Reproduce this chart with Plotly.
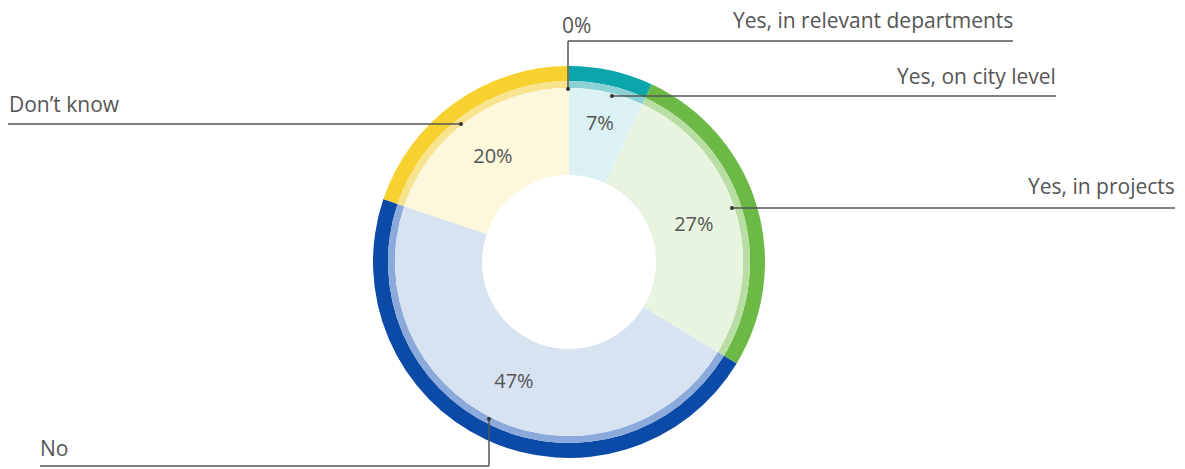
import plotly.graph_objects as go

# ---- data ----
categories = ["Yes, in relevant departments", "Yes, on city level", "Yes, in projects", "No", "Don't know"]
values = [0, 7, 27, 47, 20]

# ---- styles ----
strong = ["#0aa6ab", "#0aa6ab", "#6cb946", "#0b4aa6", "#f6d12f"]
medium = ["#8ad2d6", "#8ad2d6", "#b8dea4", "#8ba9da", "#f8e48e"]
light = ["#dbf1f3", "#dbf1f3", "#e8f4e0", "#d8e3f2", "#fdf7dc"]

W, H = 1185, 469
CX, CY = 569, 262
R_OUT, R_MID, R_IN, R_HOLE = 196, 181, 174, 87
FONT = "Open Sans"
TXT = "#555555"
LINE = "#555555"


def dom(r):
    return dict(x=[(CX - r) / W, (CX + r) / W], y=[1 - (CY + r) / H, 1 - (CY - r) / H])


fig = go.Figure()
common = dict(labels=categories, values=values, sort=False, direction="clockwise",
              rotation=0, showlegend=False, hoverinfo="label+value")

fig.add_trace(go.Pie(domain=dom(R_OUT), hole=R_MID / R_OUT, marker=dict(colors=strong, line=dict(width=0)),
                     textinfo="none", **common))
fig.add_trace(go.Pie(domain=dom(R_MID), hole=R_IN / R_MID, marker=dict(colors=medium, line=dict(width=0)),
                     textinfo="none", **common))
fig.add_trace(go.Pie(domain=dom(R_IN), hole=R_HOLE / R_IN, marker=dict(colors=light, line=dict(width=0)),
                     text=[f"{v}%" if v else "" for v in values], textinfo="text",
                     textposition="inside", insidetextorientation="horizontal",
                     insidetextfont=dict(family=FONT, size=20, color=TXT), **common))


def px(x):
    return x / W


def py(y):
    return 1 - y / H


shapes = []
annotations = []


def seg(x0, y0, x1, y1):
    shapes.append(dict(type="line", xref="paper", yref="paper", x0=px(x0), y0=py(y0), x1=px(x1), y1=py(y1),
                       line=dict(color=LINE, width=1.5)))


def dot(x, y):
    shapes.append(dict(type="circle", xref="paper", yref="paper", x0=px(x - 2), x1=px(x + 2),
                       y0=py(y + 2), y1=py(y - 2), fillcolor="#333333", line=dict(width=0)))


def label(text, x, y, anchor):
    annotations.append(dict(text=text, x=px(x), y=py(y), xref="paper", yref="paper", xanchor=anchor,
                            yanchor="middle", showarrow=False, font=dict(family=FONT, size=21, color=TXT)))


# Yes, in relevant departments (0%)
seg(568, 89, 568, 41); seg(568, 41, 1013, 41); dot(568, 89)
label(categories[0], 1015, 20, "right")
label(f"{values[0]}%", 560, 25, "left")
# Yes, on city level
seg(612, 96, 1056, 96); dot(612, 96)
label(categories[1], 1058, 76, "right")
# Yes, in projects
seg(732, 208, 1175, 208); dot(732, 208)
label(categories[2], 1177, 186, "right")
# Don't know
seg(8, 124, 461, 124); dot(461, 124)
label("Don’t know", 7, 104, "left")
# No
seg(489, 419, 489, 466); seg(489, 466, 40, 466); dot(489, 419)
label(categories[3], 38, 448, "left")

fig.update_layout(width=W, height=H, margin=dict(l=0, r=0, t=0, b=0),
                  paper_bgcolor="white", plot_bgcolor="white",
                  shapes=shapes, annotations=annotations, font=dict(family=FONT))

fig.write_html("out.html", config={"displayModeBar": False},
               post_script="document.body.style.margin='0px';document.body.style.overflow='hidden';")
